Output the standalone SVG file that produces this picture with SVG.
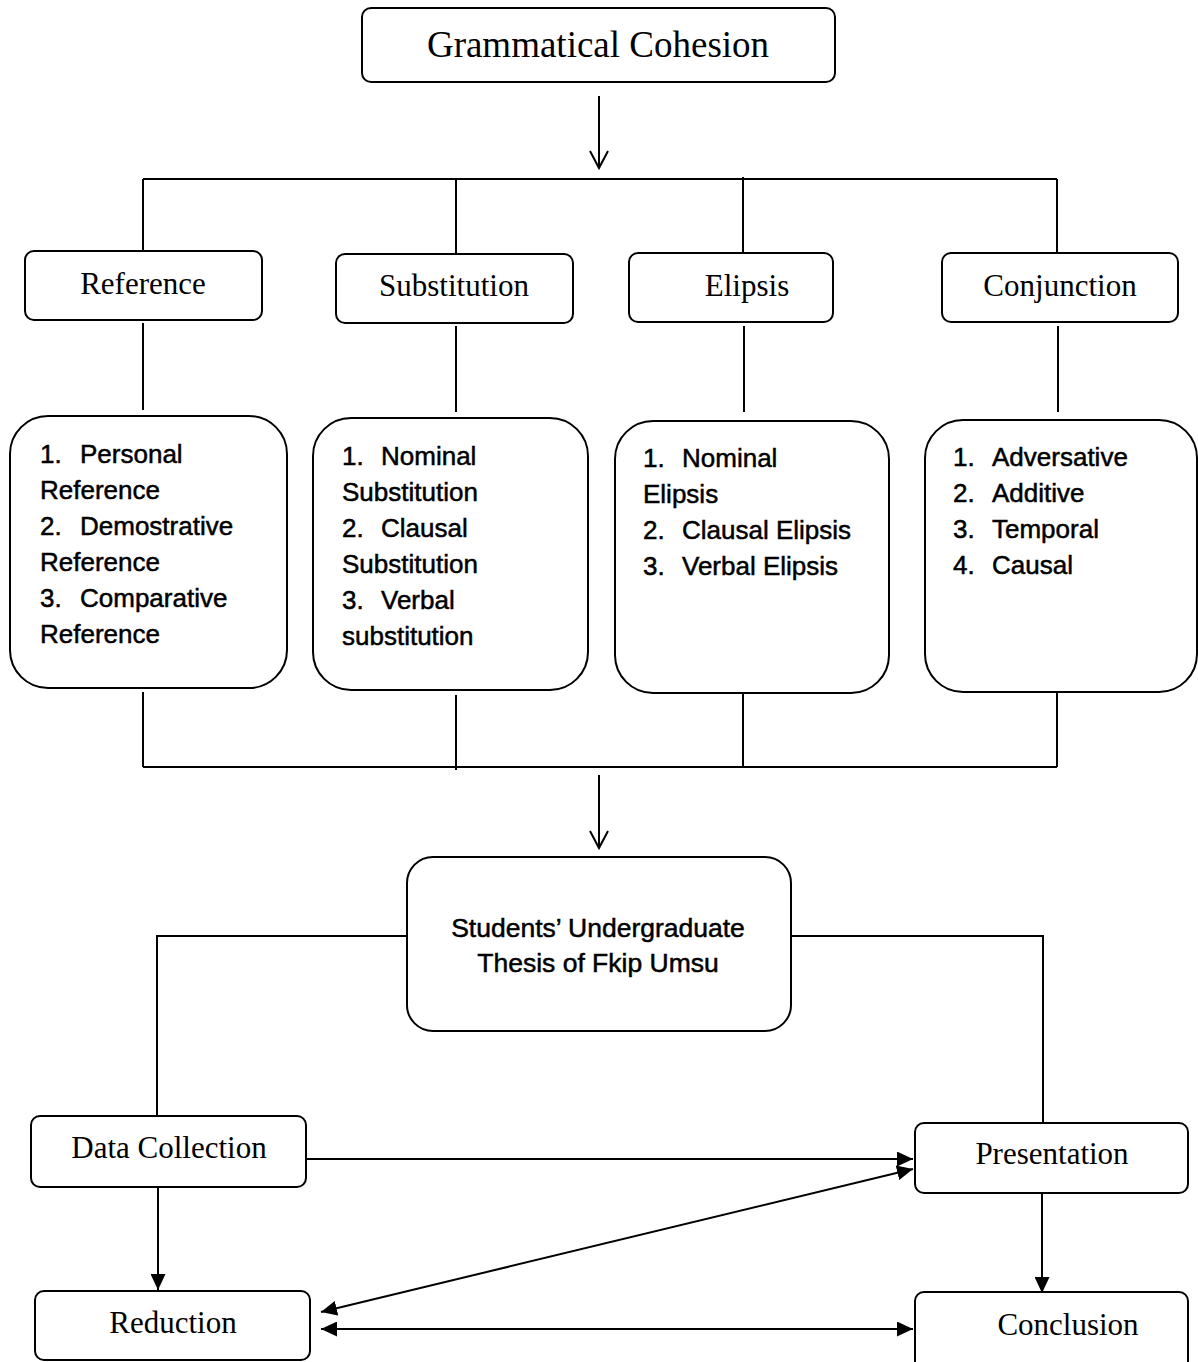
<svg xmlns="http://www.w3.org/2000/svg" width="1198" height="1362" viewBox="0 0 1198 1362">
<style>
.box{fill:#fff;stroke:#000;stroke-width:2}
.ln{fill:none;stroke:#000;stroke-width:2}
.serif{font-family:"Liberation Serif","Times New Roman",serif;font-size:31px;fill:#000;text-anchor:middle}
.sans{font-family:"Liberation Sans",Arial,sans-serif;font-size:26px;fill:#000;stroke:#000;stroke-width:0.5}
.mid{text-anchor:middle;font-size:26.5px}
</style>
<defs>
<marker id="ah" markerUnits="userSpaceOnUse" markerWidth="16" markerHeight="15" refX="16" refY="7.5" orient="auto-start-reverse">
<path d="M0,0 L16,7.5 L0,15 z" fill="#000"/>
</marker>
</defs>
<rect width="1198" height="1362" fill="#fff"/>

<g id="connectors">
<path class="ln" d="M599,96 V168 M590,151 L599,168 L608,151"/>
<path class="ln" d="M143,179 H1057 M143,179 V250 M456,179 V254 M743,177 V253 M1057,179 V253"/>
<path class="ln" d="M143,323 V410 M456,326 V412 M744,326 V412 M1058,326 V412"/>
<path class="ln" d="M143,692 V767 M456,695 V770 M743,693 V767 M1057,693 V767 M143,767 H1057"/>
<path class="ln" d="M599,775 V848 M590,831 L599,848 L608,831"/>
<path class="ln" d="M407,936 H157 V1116 M791,936 H1043 V1123"/>
<line class="ln" x1="307" y1="1159" x2="913" y2="1159" marker-end="url(#ah)"/>
<line class="ln" x1="158" y1="1188" x2="158" y2="1290" marker-end="url(#ah)"/>
<line class="ln" x1="1042" y1="1193" x2="1042" y2="1293" marker-end="url(#ah)"/>
<line class="ln" x1="321" y1="1312" x2="913" y2="1169" marker-start="url(#ah)" marker-end="url(#ah)"/>
<line class="ln" x1="321" y1="1329" x2="913" y2="1329" marker-start="url(#ah)" marker-end="url(#ah)"/>
</g>

<g id="grammatical-cohesion">
<rect class="box" x="362" y="8" width="473" height="74" rx="9"/>
<text class="serif" x="598" y="57" style="font-size:37px">Grammatical Cohesion</text>
</g>

<g id="reference">
<rect class="box" x="25" y="251" width="237" height="69" rx="9"/>
<text class="serif" x="143" y="294">Reference</text>
</g>
<g id="substitution">
<rect class="box" x="336" y="254" width="237" height="69" rx="9"/>
<text class="serif" x="454" y="296">Substitution</text>
</g>
<g id="elipsis">
<rect class="box" x="629" y="253" width="204" height="69" rx="9"/>
<text class="serif" x="747" y="296">Elipsis</text>
</g>
<g id="conjunction">
<rect class="box" x="942" y="253" width="236" height="69" rx="9"/>
<text class="serif" x="1060" y="296">Conjunction</text>
</g>

<g id="reference-list">
<rect class="box" x="10" y="416" width="277" height="272" rx="38"/>
<text class="sans" x="40" y="463">1.<tspan x="80">Personal</tspan></text>
<text class="sans" x="40" y="499">Reference</text>
<text class="sans" x="40" y="535">2.<tspan x="80">Demostrative</tspan></text>
<text class="sans" x="40" y="571">Reference</text>
<text class="sans" x="40" y="607">3.<tspan x="80">Comparative</tspan></text>
<text class="sans" x="40" y="643">Reference</text>
</g>
<g id="substitution-list">
<rect class="box" x="313" y="418" width="275" height="272" rx="38"/>
<text class="sans" x="342" y="465">1.<tspan x="381">Nominal</tspan></text>
<text class="sans" x="342" y="501">Substitution</text>
<text class="sans" x="342" y="537">2.<tspan x="381">Clausal</tspan></text>
<text class="sans" x="342" y="573">Substitution</text>
<text class="sans" x="342" y="609">3.<tspan x="381">Verbal</tspan></text>
<text class="sans" x="342" y="645">substitution</text>
</g>
<g id="elipsis-list">
<rect class="box" x="615" y="421" width="274" height="272" rx="38"/>
<text class="sans" x="643" y="467">1.<tspan x="682">Nominal</tspan></text>
<text class="sans" x="643" y="503">Elipsis</text>
<text class="sans" x="643" y="539">2.<tspan x="682">Clausal Elipsis</tspan></text>
<text class="sans" x="643" y="575">3.<tspan x="682">Verbal Elipsis</tspan></text>
</g>
<g id="conjunction-list">
<rect class="box" x="925" y="420" width="272" height="272" rx="38"/>
<text class="sans" x="953" y="466">1.<tspan x="992">Adversative</tspan></text>
<text class="sans" x="953" y="502">2.<tspan x="992">Additive</tspan></text>
<text class="sans" x="953" y="538">3.<tspan x="992">Temporal</tspan></text>
<text class="sans" x="953" y="574">4.<tspan x="992">Causal</tspan></text>
</g>

<g id="students-thesis">
<rect class="box" x="407" y="857" width="384" height="174" rx="26"/>
<text class="sans mid" x="598" y="937">Students’ Undergraduate</text>
<text class="sans mid" x="598" y="972">Thesis of Fkip Umsu</text>
</g>

<g id="data-collection">
<rect class="box" x="31" y="1116" width="275" height="71" rx="9"/>
<text class="serif" x="169" y="1158">Data Collection</text>
</g>
<g id="presentation">
<rect class="box" x="915" y="1123" width="273" height="70" rx="9"/>
<text class="serif" x="1052" y="1164">Presentation</text>
</g>
<g id="reduction">
<rect class="box" x="35" y="1291" width="275" height="69" rx="9"/>
<text class="serif" x="173" y="1333">Reduction</text>
</g>
<g id="conclusion">
<rect class="box" x="915" y="1292" width="273" height="78" rx="9"/>
<text class="serif" x="1068" y="1335">Conclusion</text>
</g>
</svg>
